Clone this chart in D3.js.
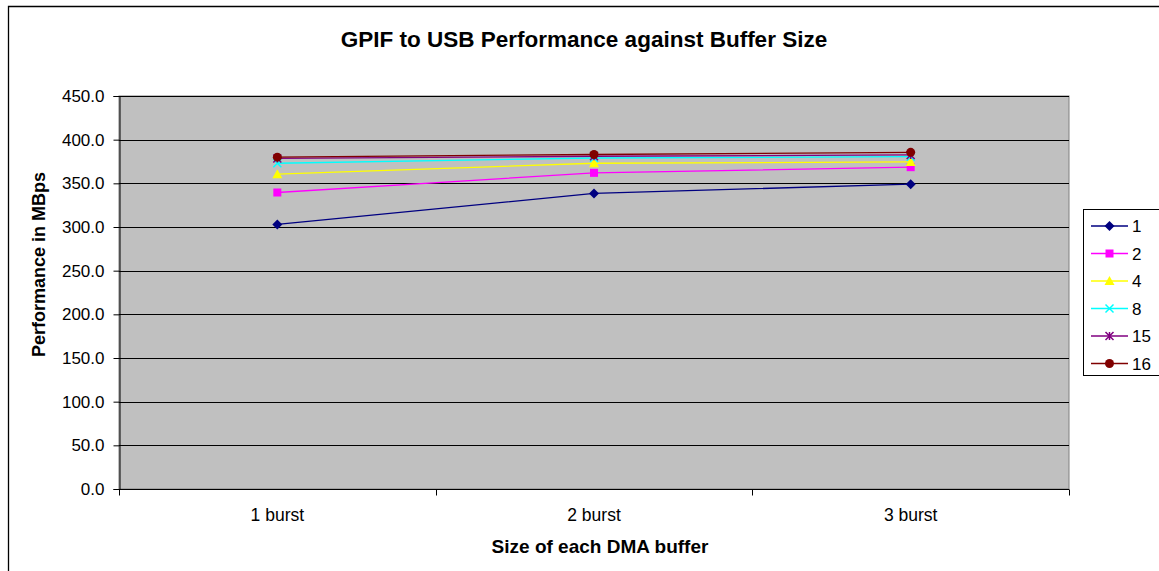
<!DOCTYPE html>
<html><head><meta charset="utf-8">
<script src="https://cdn.jsdelivr.net/npm/d3@7"></script>
<style>body{margin:0;background:#fff;}svg{display:block;font-family:Arial,"Liberation Sans",sans-serif;}</style>
</head><body><svg id="c" width="1159" height="571"></svg>
<script>
const categories = ["1 burst", "2 burst", "3 burst"];
const seriesNames = ["1", "2", "4", "8", "15", "16"];
const s1 = [303.0, 338.5, 349.0];
const s2 = [339.5, 362.0, 368.5];
const s4 = [360.5, 373.0, 374.5];
const s8 = [373.0, 379.0, 380.5];
const s15 = [378.5, 381.0, 382.5];
const s16 = [380.0, 383.0, 385.5];
const yTicks = [0, 50, 100, 150, 200, 250, 300, 350, 400, 450];
const colors = ["#000080", "#FF00FF", "#FFFF00", "#00FFFF", "#800080", "#800000"];
const markers = ["diamond", "square", "triangle", "x", "star", "circle"];
const seriesValues = [s1, s2, s4, s8, s15, s16];

const svg = d3.select("#c");
const L = 119, R = 1069, T = 96, B = 489;
const x = d3.scaleBand().domain(categories).range([L, R]);
const y = d3.scaleLinear().domain([0, 450]).range([B, T]);
const FONT = "Arial, 'Liberation Sans', sans-serif";

// outer frame
svg.append("path").attr("d", `M8.5,580 V6.5 H1170`).attr("fill","none").attr("stroke","#000").attr("stroke-width",1.3);

// plot area
svg.append("rect").attr("x", L).attr("y", T).attr("width", R-L).attr("height", B-T)
  .attr("fill", "#C0C0C0").attr("stroke", "#808080").attr("stroke-width", 1);

// gridlines
svg.append("g").selectAll("line").data(yTicks.filter(d=>d>0)).join("line")
  .attr("x1", L).attr("x2", R).attr("y1", d=>Math.round(y(d))+0.5).attr("y2", d=>Math.round(y(d))+0.5)
  .attr("stroke", "#000").attr("stroke-width", 1);

// y axis
const yAxis = d3.axisLeft(y).tickValues(yTicks).tickFormat(d3.format(".1f")).tickSize(6).tickPadding(9);
const gy = svg.append("g").attr("transform", `translate(${L+0.5},0)`).call(yAxis);
gy.select(".domain").attr("stroke","#000");
gy.selectAll("text").attr("font-size", 17).attr("fill","#000").attr("font-family", FONT);

// x axis
const xAxis = d3.axisBottom(x).tickSize(0).tickPadding(19);
const gx = svg.append("g").attr("transform", `translate(0,${B+0.5})`).call(xAxis);
gx.select(".domain").attr("stroke","#000").attr("d", `M${L},0H${R}`);
gx.selectAll("text").attr("font-size", 17.5).attr("fill","#000").attr("font-family", FONT);
// category boundary ticks
const bounds = [0,1,2,3].map(i => L + i*x.step());
gx.selectAll(".btick").data(bounds).join("line").attr("class","btick")
  .attr("x1", d=>Math.round(d)+0.5).attr("x2", d=>Math.round(d)+0.5).attr("y1",0).attr("y2",6).attr("stroke","#000");

// title & labels
svg.append("text").attr("x", 584).attr("y", 47).attr("text-anchor","middle")
  .attr("font-size", 22.5).attr("font-weight","bold").text("GPIF to USB Performance against Buffer Size");
svg.append("text").attr("x", 600).attr("y", 553).attr("text-anchor","middle")
  .attr("font-size", 19).attr("font-weight","bold").text("Size of each DMA buffer");
svg.append("text").attr("transform", `translate(45,${(T+B)/2-28}) rotate(-90)`).attr("text-anchor","middle")
  .attr("font-size", 18).attr("font-weight","bold").text("Performance in MBps");

function drawMarker(g, type, color, cx, cy) {
  if (type === "diamond") {
    g.append("path").attr("d", `M${cx},${cy-5}L${cx+5},${cy}L${cx},${cy+5}L${cx-5},${cy}Z`).attr("fill", color);
  } else if (type === "square") {
    g.append("rect").attr("x", cx-4).attr("y", cy-4).attr("width", 8).attr("height", 8).attr("fill", color);
  } else if (type === "triangle") {
    g.append("path").attr("d", `M${cx},${cy-5}L${cx+5},${cy+4}L${cx-5},${cy+4}Z`).attr("fill", color);
  } else if (type === "x") {
    g.append("path").attr("d", `M${cx-4},${cy-4}L${cx+4},${cy+4}M${cx+4},${cy-4}L${cx-4},${cy+4}`).attr("stroke", color).attr("stroke-width", 1.5);
  } else if (type === "star") {
    g.append("path").attr("d", `M${cx-4},${cy-4}L${cx+4},${cy+4}M${cx+4},${cy-4}L${cx-4},${cy+4}M${cx},${cy-4}V${cy+4}`).attr("stroke", color).attr("stroke-width", 1.5);
  } else {
    g.append("circle").attr("cx", cx).attr("cy", cy).attr("r", 4.5).attr("fill", color);
  }
}

const line = d3.line().x((d,i)=>x(categories[i]) + x.bandwidth()/2).y(d=>y(d));
seriesValues.forEach((vals, si) => {
  const g = svg.append("g");
  g.append("path").attr("d", line(vals)).attr("fill","none").attr("stroke", colors[si]).attr("stroke-width", 1.3);
  vals.forEach((v,i) => drawMarker(g, markers[si], colors[si], x(categories[i]) + x.bandwidth()/2, y(v)));
});

// legend
const lg = svg.append("g");
lg.append("rect").attr("x", 1083.5).attr("y", 209.5).attr("width", 80).attr("height", 166)
  .attr("fill","#fff").attr("stroke","#000").attr("stroke-width",1);
seriesNames.forEach((n, i) => {
  const yy = 226 + i*27.5;
  lg.append("line").attr("x1",1091).attr("x2",1128).attr("y1",yy).attr("y2",yy).attr("stroke",colors[i]).attr("stroke-width",1.3);
  drawMarker(lg, markers[i], colors[i], 1109.5, yy);
  lg.append("text").attr("x",1132).attr("y",yy+6).attr("font-size",17).text(n);
});
</script></body></html>
